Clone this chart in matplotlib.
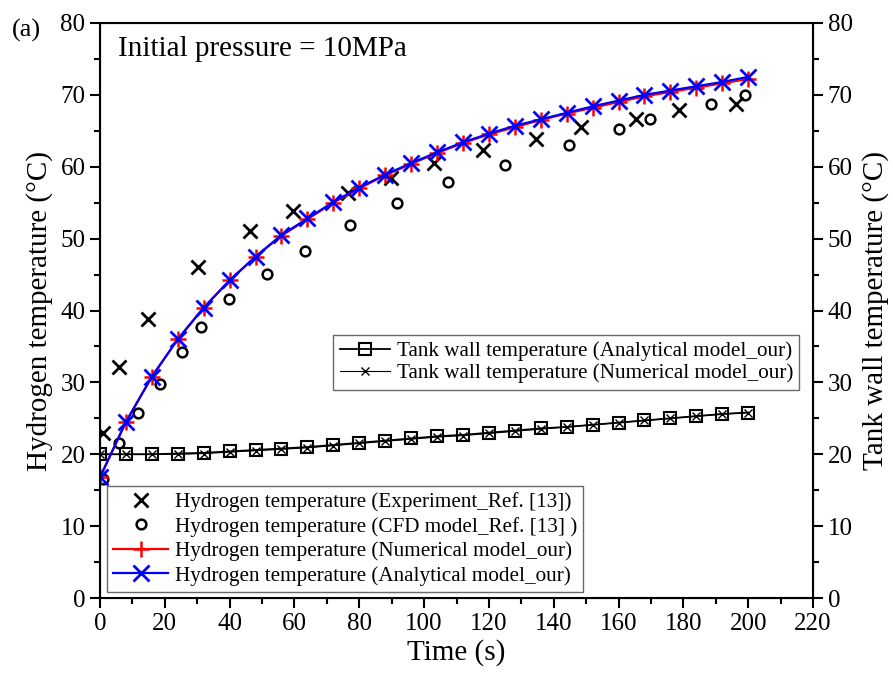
#importar pacotes
import numpy as np
import matplotlib.pyplot as plt

plt.rcParams['font.family'] = ['Liberation Serif', 'DejaVu Serif']
plt.rcParams['mathtext.fontset'] = 'stix'

#dados - modelos (passo de 8 s)
t_mod = [0, 8, 16, 24, 32, 40, 48, 56, 64, 72, 80, 88, 96, 104,
         112, 120, 128, 136, 144, 152, 160, 168, 176, 184, 192, 200]
h2_analitico = [16.8, 24.5, 30.8, 36.0, 40.4, 44.2, 47.5, 50.5, 52.8, 55.1,
                57.1, 58.9, 60.5, 62.0, 63.4, 64.6, 65.7, 66.6, 67.5, 68.4,
                69.2, 70.0, 70.6, 71.2, 71.8, 72.5]
h2_numerico = [16.8, 24.5, 30.8, 36.0, 40.4, 44.2, 47.5, 50.4, 52.7, 55.0,
               57.0, 58.8, 60.4, 61.9, 63.3, 64.5, 65.5, 66.5, 67.4, 68.2,
               69.0, 69.8, 70.4, 71.0, 71.6, 72.2]
parede_analitico = [20.0, 20.0, 20.0, 20.1, 20.2, 20.4, 20.6, 20.8, 21.0, 21.3,
                    21.6, 21.9, 22.2, 22.5, 22.7, 23.0, 23.3, 23.6, 23.8, 24.1,
                    24.4, 24.7, 25.0, 25.3, 25.6, 25.8]
parede_numerico = [20.0, 20.0, 20.0, 20.0, 20.1, 20.3, 20.5, 20.7, 20.9, 21.2,
                   21.5, 21.8, 22.1, 22.4, 22.6, 22.9, 23.2, 23.5, 23.8, 24.1,
                   24.4, 24.7, 25.0, 25.3, 25.6, 25.8]

#dados - experimento Ref. [13]
t_exp = [1, 6, 14.7, 30.3, 46.2, 59.6, 76.5, 89.9, 103.2, 118.1,
         134.5, 148.4, 165.4, 178.7, 196.2]
h2_exp = [22.9, 32.1, 38.8, 46.0, 51.0, 53.9, 56.4, 58.4, 60.5, 62.3,
          63.8, 65.5, 66.6, 67.9, 68.7]

#dados - CFD Ref. [13]
t_cfd = [1, 6, 11.6, 18.5, 25.4, 31.1, 39.8, 51.6, 63.3, 77.0,
         91.7, 107.3, 125.1, 144.6, 160.2, 169.7, 188.5, 199.1]
h2_cfd = [16.6, 21.6, 25.8, 29.8, 34.2, 37.7, 41.6, 45.1, 48.3, 51.9,
          55.0, 57.9, 60.3, 63.0, 65.2, 66.6, 68.7, 70.0]

#criar figura
fig = plt.figure(figsize=(8.93, 6.84), dpi=100)
ax = fig.add_axes([0.112, 0.1257, 0.7984, 0.8407])

#parede do tanque
l_pa, = ax.plot(t_mod, parede_analitico, color='black', linewidth=1.3,
                marker='s', markersize=9, markerfacecolor='none',
                markeredgewidth=1.5)
l_pn, = ax.plot(t_mod, parede_numerico, color='black', linewidth=0.8,
                marker='x', markersize=6, markeredgewidth=1.0)

#hidrogenio
l_exp, = ax.plot(t_exp, h2_exp, linestyle='', color='black',
                 marker='x', markersize=10, markeredgewidth=2)
l_cfd, = ax.plot(t_cfd, h2_cfd, linestyle='', color='black',
                 marker='o', markersize=7, markerfacecolor='none',
                 markeredgewidth=1.8)
l_num, = ax.plot(t_mod, h2_numerico, color='red', linewidth=1.6,
                 marker='+', markersize=12, markeredgewidth=1.8)
l_ana, = ax.plot(t_mod, h2_analitico, color='blue', linewidth=1.6,
                 marker='x', markersize=11, markeredgewidth=2)

#eixos
ax.set_xlim(0, 220)
ax.set_ylim(0, 80)
ax.set_xticks(np.arange(0, 221, 20))
ax.set_xticks(np.arange(10, 220, 20), minor=True)
ax.set_yticks(np.arange(0, 81, 10))
ax.set_yticks(np.arange(5, 80, 10), minor=True)
ax.tick_params(which='major', direction='out', length=7, width=1.5,
               labelsize=18)
ax.tick_params(which='minor', direction='out', length=4, width=1.5)
for s in ax.spines.values():
    s.set_linewidth(1.5)
ax.set_xlabel('Time (s)', fontsize=21, labelpad=3)
ax.set_ylabel('Hydrogen temperature (°C)', fontsize=21, labelpad=5)

#eixo da direita
ax2 = ax.twinx()
ax2.set_ylim(0, 80)
ax2.set_yticks(np.arange(0, 81, 10))
ax2.set_yticks(np.arange(5, 80, 10), minor=True)
ax2.tick_params(which='major', direction='out', length=7, width=1.5,
                labelsize=18)
ax2.tick_params(which='minor', direction='out', length=4, width=1.5)
ax2.set_ylabel('Tank wall temperature (°C)', fontsize=21, labelpad=7)

#textos
ax.text(0.025, 0.955, 'Initial pressure = 10MPa', transform=ax.transAxes,
        fontsize=21, va='center', ha='left')
fig.text(0.013, 0.955, '(a)', fontsize=19, va='center', ha='left')

#legendas
leg1 = ax.legend([l_pa, l_pn],
                 ['Tank wall temperature (Analytical model_our)',
                  'Tank wall temperature (Numerical model_our)'],
                 loc='upper right', bbox_to_anchor=(0.981, 0.457),
                 borderaxespad=0, fontsize=15.2, frameon=True, fancybox=False,
                 edgecolor='#444444', handlelength=2.4, handletextpad=0.3,
                 labelspacing=0.1, borderpad=0.3)
leg1.get_frame().set_linewidth(1.0)
ax.add_artist(leg1)
leg2 = ax.legend([l_exp, l_cfd, l_num, l_ana],
                 ['Hydrogen temperature (Experiment_Ref. [13])',
                  'Hydrogen temperature (CFD model_Ref. [13] )',
                  'Hydrogen temperature (Numerical model_our)',
                  'Hydrogen temperature (Analytical model_our)'],
                 loc='lower left', bbox_to_anchor=(0.0098, 0.0104),
                 borderaxespad=0, fontsize=15.2, frameon=True, fancybox=False,
                 edgecolor='#444444', handlelength=2.6, handletextpad=0.3,
                 labelspacing=0.22, borderpad=0.3)
leg2.get_frame().set_linewidth(1.0)

#salvar a figura
plt.savefig('out.png', format='png', dpi=100)
